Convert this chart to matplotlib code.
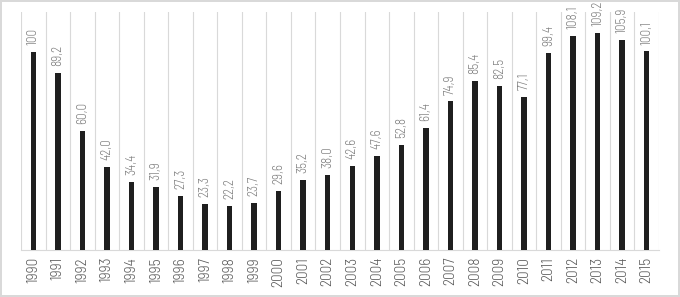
import matplotlib
matplotlib.use("Agg")
import matplotlib.pyplot as plt
from matplotlib.ticker import FixedLocator

years = [str(y) for y in range(1990, 2016)]
values = [100, 89.2, 60.0, 42.0, 34.4, 31.9, 27.3, 23.3, 22.2, 23.7, 29.6, 35.2, 38.0,
          42.6, 47.6, 52.8, 61.4, 74.9, 85.4, 82.5, 77.1, 99.4, 108.1, 109.2, 105.9, 100.1]
value_labels = ["100", "89,2", "60,0", "42,0", "34,4", "31,9", "27,3", "23,3", "22,2", "23,7",
                "29,6", "35,2", "38,0", "42,6", "47,6", "52,8", "61,4", "74,9", "85,4", "82,5",
                "77,1", "99,4", "108,1", "109,2", "105,9", "100,1"]

fam = ['Barlow Semi Condensed', 'DejaVu Sans']

fig = plt.figure(figsize=(6.8, 2.97), dpi=100)
fig.patch.set_facecolor('white')
fig.patch.set_edgecolor('#d9d9d9')
fig.patch.set_linewidth(1.5)

ax = fig.add_axes([21/680, 1-250/297, (659-21)/680, (250-12)/297])
x = list(range(len(years)))
ax.bar(x, values, width=0.22, color='#1f1f1f', zorder=3)

ax.set_xlim(-0.5, len(years)-0.5)
ax.set_ylim(0, 120)
ax.set_yticks([])
ax.set_xticks(x)
ax.set_xticklabels(years, rotation=90, fontsize=11, color='#595959', family=fam, weight=300)
ax.tick_params(axis='x', length=0, pad=5)
ax.xaxis.set_minor_locator(FixedLocator([i - 0.5 for i in range(len(years)+1)]))
ax.tick_params(axis='x', which='minor', length=0)
ax.grid(True, which='minor', axis='x', color='#d9d9d9', linewidth=0.8, zorder=0)

for s in ['top', 'left', 'right']:
    ax.spines[s].set_visible(False)
ax.spines['bottom'].set_color('#d9d9d9')
ax.spines['bottom'].set_linewidth(0.8)

for xi, v, lab in zip(x, values, value_labels):
    ax.annotate(lab, (xi, v), xytext=(0, 5), textcoords='offset points',
                rotation=90, ha='center', va='bottom', fontsize=9.5,
                color='#808080', family=fam, weight=300, annotation_clip=False)

fig.savefig('out.png', dpi=100, edgecolor=fig.get_edgecolor())
